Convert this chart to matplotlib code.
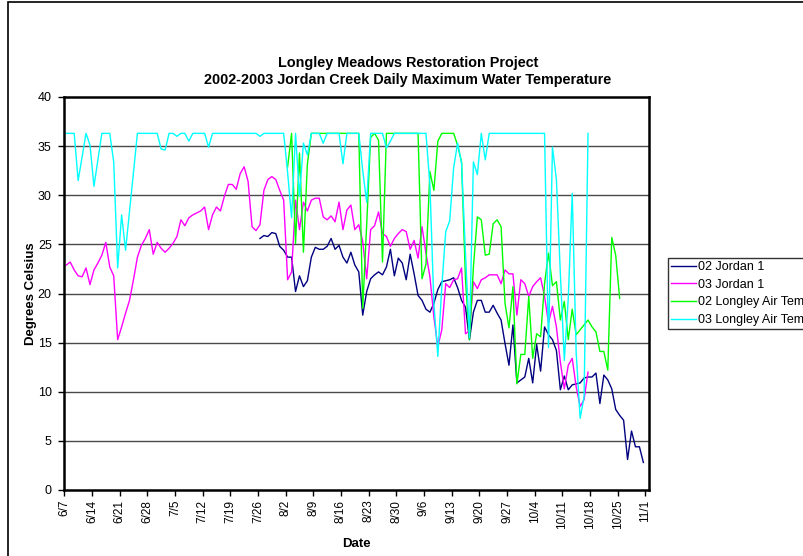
import matplotlib
matplotlib.use("Agg")
import matplotlib.pyplot as plt
import numpy as np
from matplotlib.patches import Rectangle

plt.rcParams['font.family'] = ['Liberation Sans', 'DejaVu Sans']

# day 0 = 6/7, one value per day
tick_days = list(range(0, 148, 7))
tick_labels = ['6/7', '6/14', '6/21', '6/28', '7/5', '7/12', '7/19', '7/26',
               '8/2', '8/9', '8/16', '8/23', '8/30', '9/6', '9/13', '9/20',
               '9/27', '10/4', '10/11', '10/18', '10/25', '11/1']

# 02 Jordan 1 (starts 7/26)
jordan02_start = 49
jordan02 = [25.6, 25.9, 25.8, 26.2, 26.1, 24.8, 24.4, 23.7, 23.7, 20.2,
            21.8, 20.7, 21.3, 23.7, 24.7, 24.5, 24.5, 24.8, 25.6, 24.5,
            24.9, 23.7, 23.1, 24.2, 22.9, 22.2, 17.8, 20.2, 21.5, 21.9,
            22.2, 21.9, 22.7, 24.5, 21.8, 23.6, 23.1, 21.4, 24.0, 22.0,
            19.8, 19.3, 18.4, 18.1, 19.0, 20.4, 21.2, 21.3, 21.4, 21.6,
            20.6, 19.3, 18.6, 15.3, 18.1, 19.3, 19.3, 18.1, 18.1, 18.8,
            18.0, 17.3, 14.9, 12.7, 16.8, 10.9, 11.2, 11.5, 13.4, 10.9,
            14.8, 12.1, 16.6, 15.8, 15.3, 14.2, 10.2, 11.6, 10.2, 10.7,
            10.8, 10.9, 11.4, 11.5, 11.5, 11.9, 8.8, 11.7, 11.2, 10.3,
            8.2, 7.6, 7.1, 3.1, 6.0, 4.4, 4.4, 2.8]

# 03 Jordan 1 (starts 6/7)
jordan03_start = 0
jordan03 = [22.9, 23.2, 22.4, 21.8, 21.7, 22.6, 20.9, 22.4, 23.1, 23.9,
            25.2, 22.7, 21.8, 15.3, 16.6, 18.0, 19.3, 21.4, 23.7, 24.9,
            25.6, 26.5, 24.0, 25.2, 24.6, 24.2, 24.6, 25.1, 25.8, 27.5,
            26.9, 27.7, 28.0, 28.2, 28.4, 28.8, 26.5, 28.0, 28.8, 28.4,
            29.9, 31.1, 31.1, 30.6, 32.2, 32.9, 31.4, 26.8, 26.4, 27.0,
            30.5, 31.6, 31.9, 31.6, 30.5, 29.5, 21.4, 22.2, 29.5, 26.5,
            29.3, 28.4, 29.5, 29.7, 29.7, 27.8, 27.5, 27.9, 27.3, 29.3,
            26.5, 28.5, 29.0, 26.5, 27.0, 25.3, 21.5, 26.5, 26.9, 28.3,
            26.1, 25.8, 24.8, 25.6, 26.1, 26.5, 26.3, 24.5, 25.4, 23.6,
            26.8, 24.1, 21.7, 17.6, 14.6, 16.3, 21.0, 20.6, 21.4, 21.5,
            22.6, 15.9, 16.2, 21.2, 20.5, 21.4, 21.6, 21.9, 21.9, 21.9,
            21.0, 22.4, 22.0, 22.0, 17.8, 21.4, 21.0, 19.7, 20.7, 21.2,
            21.6, 19.7, 17.0, 18.7, 16.6, 13.0, 10.3, 12.7, 13.4, 10.5,
            8.5, 9.2, 12.0]

# 02 Longley Air Temp (starts 8/2)
air02_start = 56
air02 = [32.9, 36.3, 25.1, 34.3, 24.2, 33.2, 36.3, 36.3, 36.3, 36.3,
         36.3, 36.3, 36.3, 36.3, 36.3, 36.3, 36.3, 36.3, 36.3, 18.5,
         27.0, 35.9, 36.3, 35.6, 23.2, 36.3, 36.3, 36.3, 36.3, 36.3,
         36.3, 36.3, 36.3, 36.3, 21.5, 23.0, 32.4, 30.5, 35.5, 36.3,
         36.3, 36.3, 36.3, 35.1, 33.4, 21.4, 15.3, 22.7, 27.8, 27.5,
         23.9, 24.0, 27.1, 27.5, 26.8, 19.0, 16.5, 20.7, 10.8, 13.8,
         13.8, 19.7, 13.4, 15.9, 15.6, 21.0, 24.1, 20.8, 21.2, 17.3,
         19.2, 15.3, 18.4, 15.8, 16.3, 16.8, 17.3, 16.6, 16.1, 14.1,
         14.1, 12.2, 25.7, 23.9, 19.5]

# 03 Longley Air Temp (starts 6/7)
air03_start = 0
air03 = [36.3, 36.3, 36.3, 31.5, 33.9, 36.3, 35.1, 30.9, 33.6, 36.3,
         36.3, 36.3, 33.4, 22.6, 28.0, 24.4, 28.4, 32.4, 36.3, 36.3,
         36.3, 36.3, 36.3, 36.3, 34.7, 34.6, 36.3, 36.3, 36.0, 36.3,
         36.3, 35.5, 36.3, 36.3, 36.3, 36.3, 34.9, 36.3, 36.3, 36.3,
         36.3, 36.3, 36.3, 36.3, 36.3, 36.3, 36.3, 36.3, 36.3, 36.0,
         36.3, 36.3, 36.3, 36.3, 36.3, 36.3, 32.3, 27.7, 36.3, 29.9,
         35.3, 34.1, 36.3, 36.3, 36.3, 35.3, 36.3, 36.3, 36.3, 36.3,
         33.2, 36.3, 36.3, 36.3, 36.3, 32.5, 29.3, 36.3, 36.3, 36.3,
         36.3, 34.8, 35.5, 36.3, 36.3, 36.3, 36.3, 36.3, 36.3, 36.3,
         36.3, 36.3, 31.0, 19.0, 13.6, 20.7, 26.3, 27.4, 32.8, 35.3,
         33.3, 24.0, 15.5, 33.4, 32.1, 36.3, 33.6, 36.3, 36.3, 36.3,
         36.3, 36.3, 36.3, 36.3, 36.3, 36.3, 36.3, 36.3, 36.3, 36.3,
         36.3, 36.3, 14.5, 34.9, 31.6, 22.0, 13.2, 19.5, 30.2, 14.0,
         7.3, 9.5, 36.3]

series = [
    ('02 Jordan 1', jordan02_start, jordan02, '#000080'),
    ('03 Jordan 1', jordan03_start, jordan03, '#FF00FF'),
    ('02 Longley Air Temp', air02_start, air02, '#00FF00'),
    ('03 Longley Air Temp', air03_start, air03, '#00FFFF'),
]

W, H = 804, 556
fig = plt.figure(figsize=(W / 100, H / 100), dpi=100)

# outer chart frame (runs past the right and bottom edges of the image)
fig.patches.append(Rectangle((8 / W, -0.1), 1.2, 1.1 - 2 / H,
                             transform=fig.transFigure, fill=False,
                             edgecolor='black', lw=1.2))

left, right, top, bottom = 64.3, 649.3, 97, 490
ax = fig.add_axes([left / W, 1 - bottom / H, (right - left) / W, (bottom - top) / H])

for name, start, vals, col in series:
    x = start + np.arange(len(vals)) + 0.5
    ax.plot(x, vals, color=col, lw=1.0, label=name)

ax.set_xlim(0, 148)
ax.set_ylim(0, 40)
ax.set_yticks(range(0, 41, 5))
ax.set_xticks(tick_days)
ax.set_xticklabels(tick_labels, rotation=90, fontsize=8.5)
ax.tick_params(axis='y', labelsize=9, direction='out', length=4, width=1, pad=5)
ax.tick_params(axis='x', direction='out', length=4, width=1, pad=3)
for y in range(5, 40, 5):
    ax.axhline(y, color='#4a4a4a', lw=1.0, zorder=0)
for s in ax.spines.values():
    s.set_linewidth(1.8)
    s.set_color('black')

ax.set_xlabel('Date', fontsize=9.5, fontweight='bold', labelpad=6)
ax.set_ylabel('Degrees Celsius', fontsize=9.5, fontweight='bold')
ax.yaxis.set_label_coords((37 - left) / (right - left), 0.5)

fig.text(408 / W, 1 - 63 / H, 'Longley Meadows Restoration Project',
         ha='center', va='center', fontsize=10.4, fontweight='bold')
fig.text(408 / W, 1 - 80 / H, '2002-2003 Jordan Creek Daily Maximum Water Temperature',
         ha='center', va='center', fontsize=10.4, fontweight='bold')

leg = fig.legend(loc='upper left', bbox_to_anchor=(668 / W, 1 - 258 / H),
                 fontsize=9, frameon=True, fancybox=False, edgecolor='black',
                 handlelength=2.0, handletextpad=0.15, labelspacing=0.45,
                 borderpad=0.25, borderaxespad=0)
leg.get_frame().set_linewidth(1.0)

fig.savefig('out.png', dpi=100)
